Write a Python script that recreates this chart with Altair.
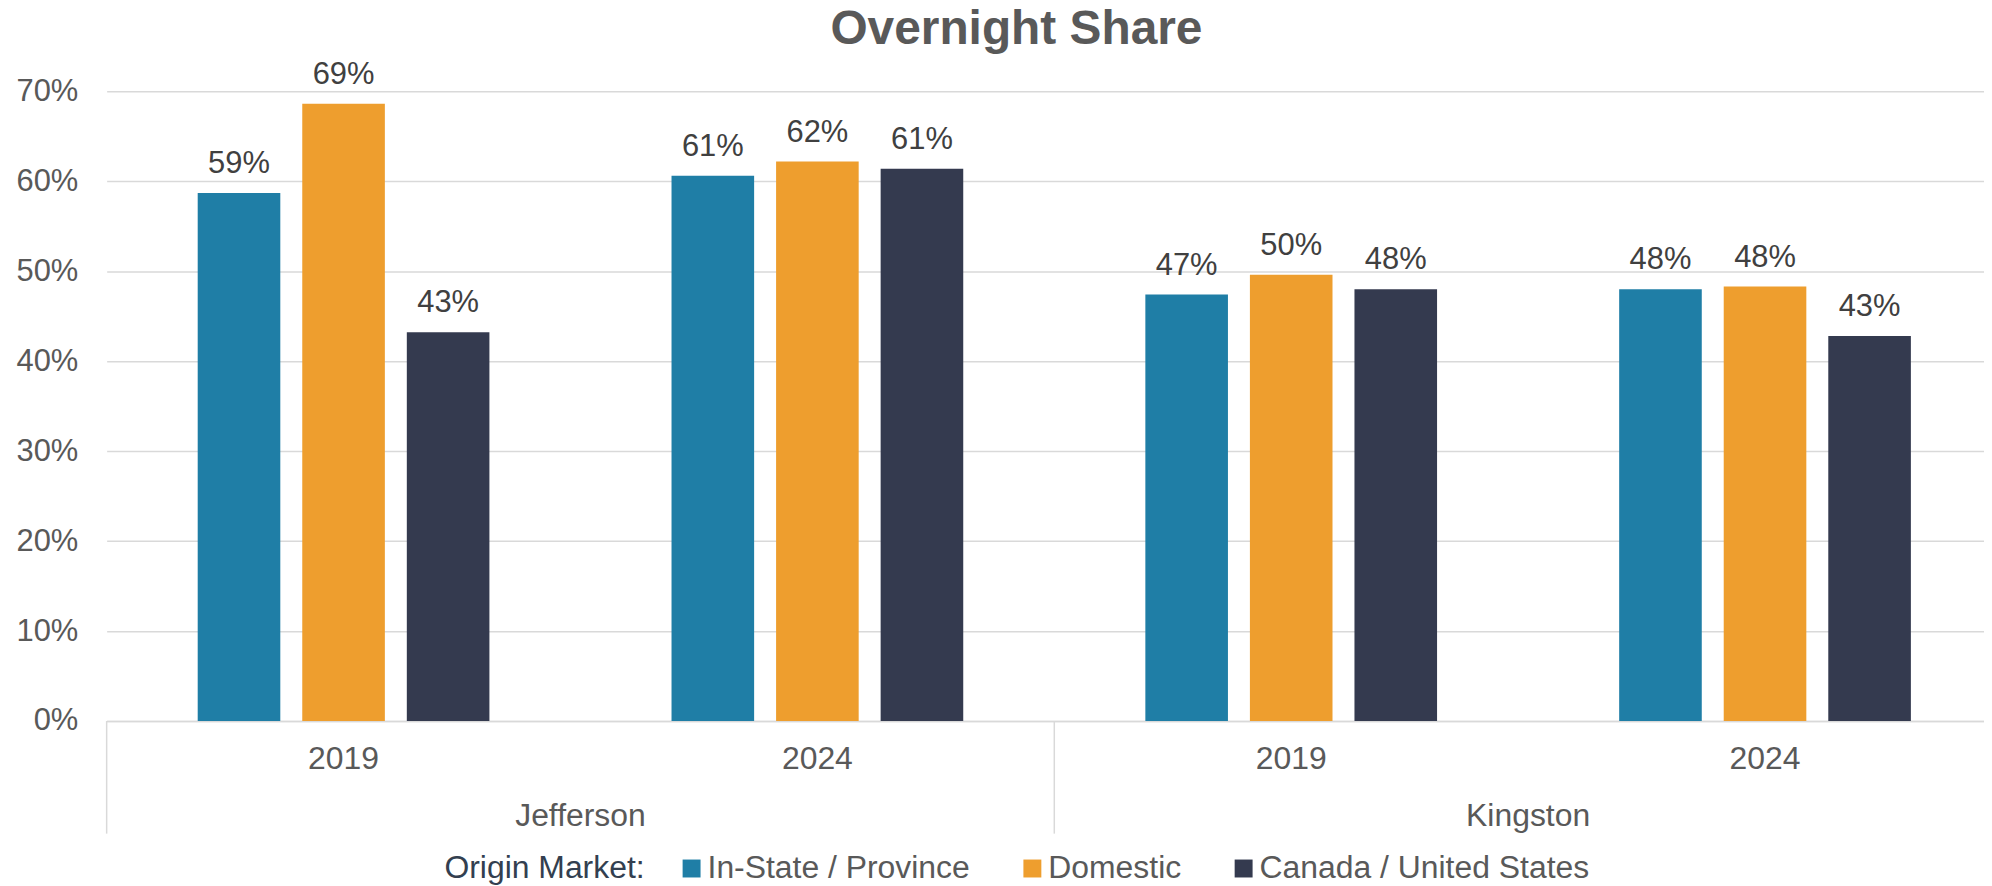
import altair as alt
import pandas as pd

# ---- data ----
locations = ["Jefferson", "Jefferson", "Kingston", "Kingston"]
years = ["2019", "2024", "2019", "2024"]
markets = ["In-State / Province", "Domestic", "Canada / United States"]
in_state = [0.587, 0.606, 0.474, 0.480]
domestic = [0.686, 0.622, 0.496, 0.483]
canada_us = [0.432, 0.614, 0.480, 0.428]
group_names = ["Jefferson", "Kingston"]
colors = ["#1F7EA6", "#EE9E2E", "#343A4F"]

rows = []
for i in range(len(locations)):
    key = locations[i] + " " + years[i]
    for m, series in zip(markets, [in_state, domestic, canada_us]):
        rows.append({"key": key, "loc": locations[i], "year": years[i],
                     "market": m, "value": series[i]})
df = pd.DataFrame(rows)
keys = [l + " " + y for l, y in zip(locations, years)]
groups = pd.DataFrame({"loc": group_names})

FONT = "Liberation Sans"
W, H = 1884, 632
XR = [0, 1902]

xband = alt.X("key:N", sort=keys,
              scale=alt.Scale(domain=keys, range=XR, paddingInner=0.338, paddingOuter=0.169),
              axis=alt.Axis(title=None, labelExpr="split(datum.label, ' ')[1]",
                            ticks=False, grid=False, labelAngle=0,
                            labelFontSize=32, labelColor="#595959", labelPadding=38,
                            labelBaseline="middle", domainColor="#D9D9D9", domainWidth=1.5))
xoff = alt.XOffset("market:N", sort=markets,
                   scale=alt.Scale(domain=markets, paddingInner=0.21, paddingOuter=0.105))
yq = alt.Y("value:Q", scale=alt.Scale(domain=[0, 0.7]),
           axis=alt.Axis(title=None, format=".0%", values=[0, 0.1, 0.2, 0.3, 0.4, 0.5, 0.6, 0.7],
                         ticks=False, domain=False, gridColor="#D9D9D9", gridWidth=1.5,
                         labelFontSize=31, labelColor="#595959", labelPadding=29))

bars = alt.Chart(df).mark_bar().encode(
    x=xband, xOffset=xoff, y=yq,
    color=alt.Color("market:N", sort=markets,
                    scale=alt.Scale(domain=markets, range=colors),
                    legend=alt.Legend(title="Origin Market:"))
)

labels = alt.Chart(df).mark_text(fontSize=31, color="#404040", baseline="alphabetic", dy=-20,
                                 font=FONT).encode(
    x=alt.X("key:N", sort=keys,
            scale=alt.Scale(domain=keys, range=XR, paddingInner=0.338, paddingOuter=0.169),
            axis=None),
    xOffset=xoff,
    y=yq,
    text=alt.Text("value:Q", format=".0%")
)

loc_x = alt.X("loc:N", sort=group_names,
              scale=alt.Scale(domain=group_names, range=XR, paddingInner=0, paddingOuter=0),
              axis=None)

group_text = alt.Chart(groups).mark_text(fontSize=32, color="#595959", baseline="middle",
                                         font=FONT).encode(
    x=loc_x, y=alt.value(H + 95), text="loc:N"
)

dividers = alt.Chart(groups).mark_rule(color="#D9D9D9", strokeWidth=1.5).encode(
    x=alt.X("loc:N", sort=group_names, bandPosition=0,
            scale=alt.Scale(domain=group_names, range=XR, paddingInner=0, paddingOuter=0),
            axis=None),
    y=alt.value(H), y2=alt.value(H + 113)
)

chart = alt.layer(bars, labels, group_text, dividers).resolve_scale(
    x="independent"
).properties(
    width=W, height=H,
    title=alt.TitleParams("Overnight Share", fontSize=48, fontWeight="bold", color="#595959",
                          font=FONT, anchor="middle", frame="group", dx=-29, offset=5),
    autosize=alt.AutoSizeParams(type="none"),
    padding={"left": 99, "top": 82, "right": 0, "bottom": 164}
).configure(
    font=FONT
).configure_view(
    strokeWidth=0
).configure_legend(
    orient="none", legendX=339, legendY=764, direction="horizontal",
    titleOrient="left", titleFontSize=32, titleColor="#333F50", titleFontWeight="normal",
    titlePadding=31, titleBaseline="middle", titleLimit=500,
    labelFontSize=32, labelColor="#595959", labelOffset=0, labelLimit=600,
    symbolType="square", symbolSize=324, symbolStrokeWidth=0, columnPadding=46
)

chart.save("out.html", embed_options={"renderer": "svg", "actions": False})
